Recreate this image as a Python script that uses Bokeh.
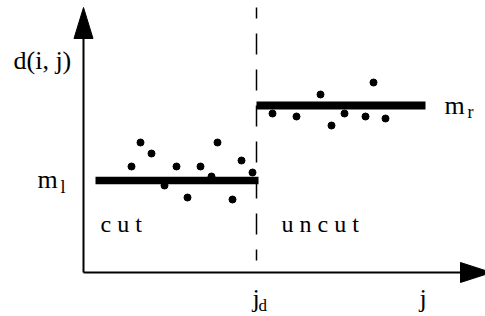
from bokeh.plotting import figure
from bokeh.models import Range1d
from bokeh.core.properties import value
from bokeh.embed import file_html
from bokeh.resources import INLINE

# ---- data (schematic units) ----
left_j = [4.8, 5.7, 6.8, 8.1, 9.3, 10.4, 11.7, 12.8, 13.4, 14.9, 15.8, 16.9]
left_d = [10.6, 13.0, 11.9, 8.7, 10.6, 7.5, 10.6, 9.6, 13.0, 7.3, 11.2, 10.0]
right_j = [18.9, 21.3, 23.7, 24.8, 26.1, 28.2, 29.0, 30.2]
right_d = [15.9, 15.6, 17.8, 14.7, 15.9, 15.6, 19.0, 15.4]
m_l = 9.2
m_r = 16.7
left_span = [1.2, 17.5]
right_span = [17.3, 34.2]
j_d = 17.3
x_axis_end = 40.8
y_axis_end = 26.5
head_len = 3.1
head_half = 0.95

FONT = value("Liberation Serif")
DY = 0.7  # baseline correction for text rendering

p = figure(width=485, height=316, output_backend="svg", toolbar_location=None,
           x_range=Range1d(-8.3, 40.2), y_range=Range1d(-4.4, 27.2),
           min_border=0, outline_line_color=None)
p.axis.visible = False
p.grid.visible = False
p.background_fill_color = "white"

# axes with arrowheads
p.line([0, 0], [0, y_axis_end - head_len + 0.2], line_color="black", line_width=2)
p.line([0, x_axis_end - head_len + 0.2], [0, 0], line_color="black", line_width=2)
p.patch([-head_half, head_half, 0], [y_axis_end - head_len, y_axis_end - head_len, y_axis_end],
        color="black")
p.patch([x_axis_end - head_len, x_axis_end - head_len, x_axis_end], [-head_half * 1.05, head_half * 1.05, 0],
        color="black")

# dashed cut position
p.line([j_d, j_d], [y_axis_end, 1.2], line_color="black", line_width=1.5,
       line_dash="21 15", line_dash_offset=10)

# mean bars
p.line(left_span, [m_l, m_l], line_color="black", line_width=7.5, line_cap="butt")
p.line(right_span, [m_r, m_r], line_color="black", line_width=8, line_cap="butt")

# points
p.scatter(left_j, left_d, size=7, color="black")
p.scatter(right_j, right_d, size=7, color="black")

def txt(x, y, s, size):
    p.text([x], [y + DY], text=[s], text_font=FONT, text_font_size=size,
           text_align="left", text_baseline="alphabetic", text_color="black")

txt(-7.0, 20.5, "d(i, j)", "26px")
txt(-4.6, m_l - 0.6, "m", "26px")
txt(-2.3, m_l - 1.3, "l", "18px")
txt(36.1, m_r - 0.7, "m", "26px")
txt(38.4, m_r - 1.3, "r", "18px")
txt(1.7, 4.2, "c u t", "24px")
txt(19.8, 4.2, "u n c u t", "24px")
txt(j_d - 0.4, -3.3, "j", "26px")
txt(j_d + 0.2, -4.0, "d", "17px")
txt(33.6, -3.3, "j", "26px")

open("out.html", "w").write(file_html(p, INLINE))
